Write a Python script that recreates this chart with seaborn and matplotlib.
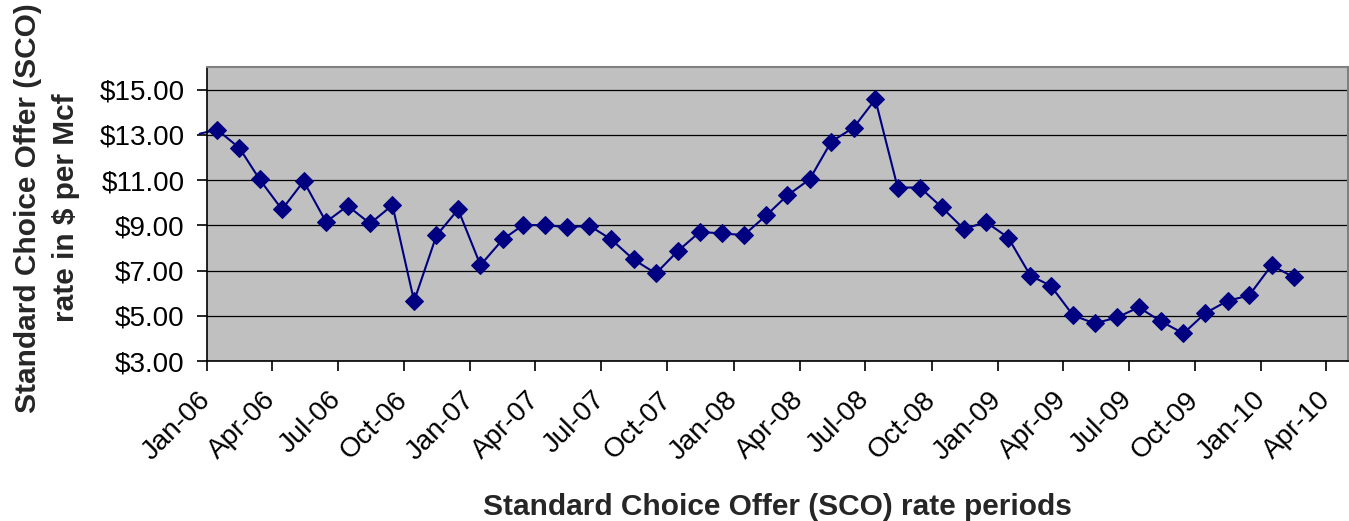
import pandas as pd
import matplotlib
matplotlib.use("Agg")
import matplotlib.pyplot as plt
import matplotlib.dates as mdates
from matplotlib.ticker import FixedLocator, StrMethodFormatter
import seaborn as sns

# monthly SCO rates, Jan-06 .. Feb-10 ($ per Mcf)
periods = pd.date_range("2006-01-01", periods=50, freq="MS") + pd.Timedelta(days=14)
rates = [13.23, 12.42, 11.03, 9.70, 10.95, 9.15, 9.86, 9.08, 9.89, 5.65,
         8.55, 9.70, 7.24, 8.38, 9.01, 9.01, 8.91, 8.98, 8.38, 7.49,
         6.87, 7.85, 8.71, 8.64, 8.57, 9.44, 10.32, 11.03, 12.70, 13.32,
         14.57, 10.67, 10.67, 9.80, 8.83, 9.15, 8.46, 6.77, 6.33, 5.02,
         4.66, 4.93, 5.37, 4.75, 4.22, 5.11, 5.66, 5.90, 7.23, 6.70]
# the line runs in from the previous period (Dec-05)
lead_dates = [pd.Timestamp("2005-12-22"), periods[0]]
lead_rates = [13.05, rates[0]]

y_ticks = [3, 5, 7, 9, 11, 13, 15]

df = pd.DataFrame({"period": periods, "rate": rates})
lead = pd.DataFrame({"period": lead_dates, "rate": lead_rates})

sns.set_style("ticks")
plt.rcParams["font.family"] = ["Liberation Sans", "DejaVu Sans"]

fig = plt.figure(figsize=(13.49, 5.21), dpi=100)
ax = fig.add_axes([0.1534, 0.3071, 0.8459, 0.5643])
ax.set_facecolor("#C0C0C0")

line_col = "#000080"
sns.lineplot(data=lead, x="period", y="rate", ax=ax, color=line_col, lw=1.5,
             clip_on=False)
sns.lineplot(data=df, x="period", y="rate", ax=ax, color=line_col, lw=1.5,
             marker="D", markersize=9, markeredgecolor=line_col,
             markerfacecolor=line_col)

ax.set_xlim(pd.Timestamp("2006-01-01"), pd.Timestamp("2010-05-01"))
ax.set_ylim(3, 16)
ax.yaxis.set_major_locator(FixedLocator(y_ticks))
ax.yaxis.set_major_formatter(StrMethodFormatter("${x:.2f}"))
ax.xaxis.set_major_locator(mdates.MonthLocator(bymonth=[1, 4, 7, 10]))
ax.xaxis.set_major_formatter(mdates.DateFormatter("%b-%y"))

ax.grid(axis="y", color="black", lw=0.9)
ax.grid(axis="x", visible=False)
ax.set_axisbelow(True)

for side in ["top", "right"]:
    ax.spines[side].set_visible(True)
    ax.spines[side].set_color("#808080")
    ax.spines[side].set_linewidth(1.5)
for side in ["left", "bottom"]:
    ax.spines[side].set_color("black")
    ax.spines[side].set_linewidth(1.2)

ax.tick_params(axis="both", direction="out", length=7, width=1.2,
               colors="black", labelsize=20)
ax.tick_params(axis="x", pad=18)
ax.tick_params(axis="y", pad=9)
plt.setp(ax.get_xticklabels(), rotation=45, ha="right", va="center",
         rotation_mode="anchor")

ax.set_xlabel("Standard Choice Offer (SCO) rate periods", fontsize=21.5,
              fontweight="bold")
ax.set_ylabel("Standard Choice Offer (SCO)\nrate in $ per Mcf", fontsize=21.5,
              fontweight="bold", linespacing=1.45)
ax.xaxis.set_label_coords(0.5, -0.45)
ax.yaxis.set_label_coords(-0.14, 0.52)
ax.yaxis.label.set_verticalalignment("center")

fig.savefig("out.png", dpi=100)
